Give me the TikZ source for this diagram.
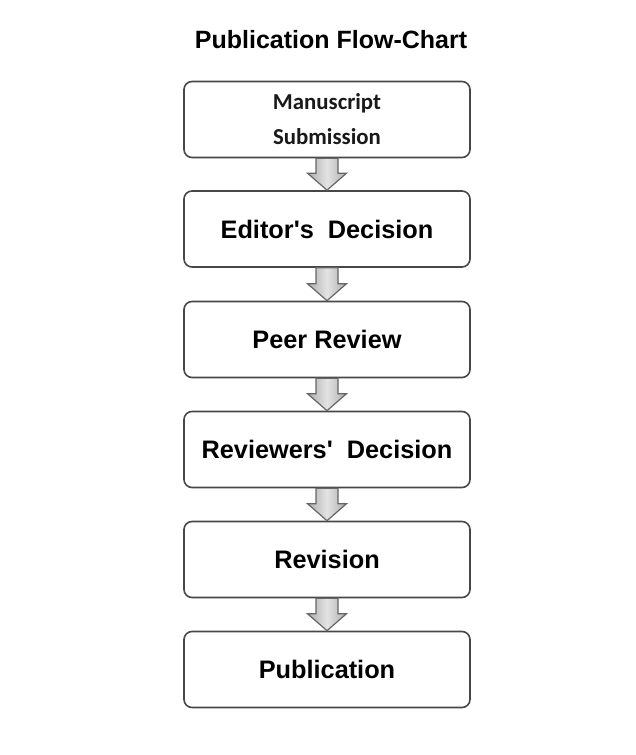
\documentclass[tikz,border=0pt]{standalone}
\usepackage{fontspec}
\setmainfont{Liberation Sans}
\newfontfamily\calfont{Carlito}
\usetikzlibrary{calc}
\tikzset{
  stagebox/.style={draw=black!72, line width=1.6pt, rounded corners=8pt, fill=white,
    minimum width=286pt, minimum height=76pt, inner sep=0pt,
    font=\fontsize{25.3}{30}\selectfont\bfseries, text=black},
  blockarrow/.style={draw=black!60, line width=1.2pt, line join=miter,
    left color=gray!65, right color=gray!65, middle color=gray!22},
}
\begin{document}
\begin{tikzpicture}[x=1pt,y=-1pt]
\useasboundingbox (0,0) rectangle (636,755);
\node[font=\fontsize{25}{30}\selectfont\bfseries] (title) at (331,40) {Publication Flow-Chart};
\node[stagebox, align=center, font=\calfont\fontsize{22.8}{35}\selectfont\bfseries, text=black!90] (b1) at (327,119.5) {Manuscript\\Submission};
\node[stagebox] (b2) at (327,229) {Editor\textquotesingle s\ \ Decision};
\node[stagebox] (b3) at (327,339.5) {Peer Review};
\node[stagebox] (b4) at (327,449.5) {Reviewers\textquotesingle\ \ Decision};
\node[stagebox] (b5) at (327,559.5) {Revision};
\node[stagebox] (b6) at (327,669.5) {Publication};
\foreach \a/\b in {b1/b2,b2/b3,b3/b4,b4/b5,b5/b6}{
  \draw[blockarrow] ($(\a.south)+(-11,0)$) -- ($(\a.south)+(11,0)$)
     -- ($(\b.north)+(11,-17)$) -- ($(\b.north)+(19.5,-17)$) -- (\b.north)
     -- ($(\b.north)+(-19.5,-17)$) -- ($(\b.north)+(-11,-17)$) -- cycle;
}
\end{tikzpicture}
\end{document}
